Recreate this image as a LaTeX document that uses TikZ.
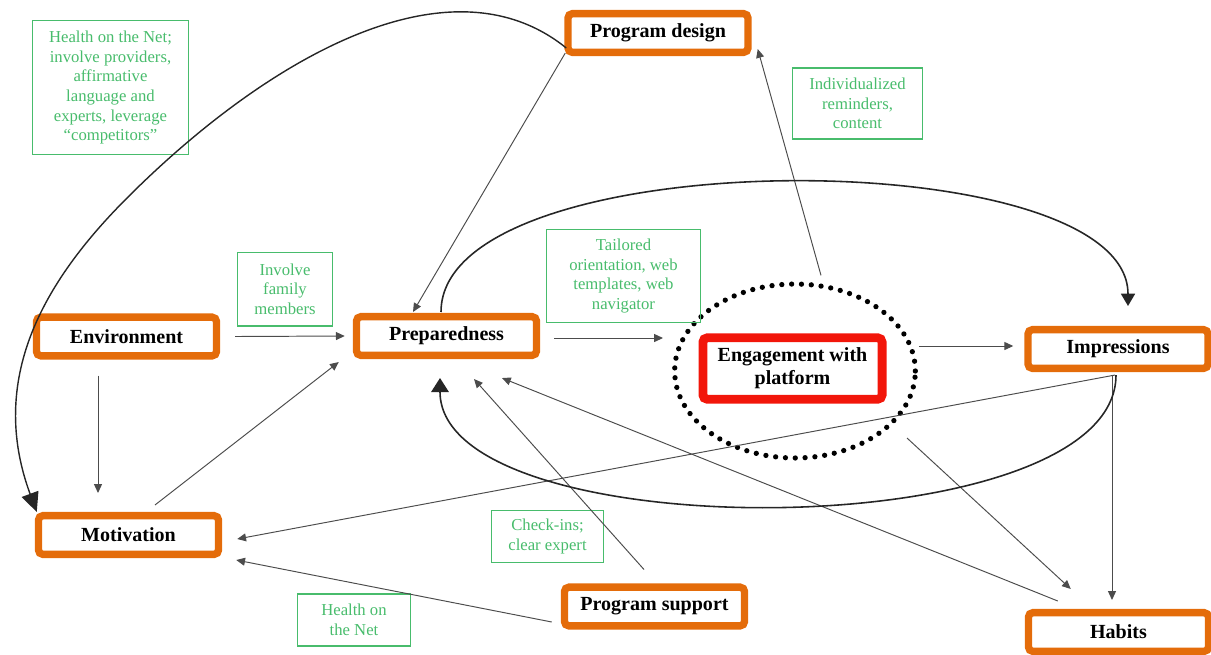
\documentclass[tikz,border=0pt]{standalone}
\usepackage{fontspec}
\setmainfont{Liberation Serif}
\usetikzlibrary{shapes.geometric,arrows.meta,calc}
\definecolor{boxorange}{RGB}{228,108,10}
\definecolor{boxred}{RGB}{242,22,10}
\definecolor{notegreen}{RGB}{72,188,108}

\begin{document}
\begin{tikzpicture}[x=0.02cm, y=-0.02cm,
   factor/.style={draw=boxorange, line width=4.2pt, rounded corners=2.5pt, minimum width=102.5pt, minimum height=22pt, inner sep=0pt, font=\fontsize{11.4}{13}\selectfont\bfseries},
   core/.style={factor, draw=boxred, line width=5pt, minimum width=102pt, minimum height=35pt, align=center},
   ring/.style={ellipse, draw, line width=3pt, dash pattern=on 0pt off 5.6pt, line cap=round, minimum width=137pt, minimum height=99pt, inner sep=0pt},
   note/.style={draw=notegreen, line width=0.7pt, text=notegreen, align=center, inner sep=0pt, font=\fontsize{9.5}{11.2}\selectfont},
   link/.style={draw=black!70, line width=0.55pt, -{Triangle[length=5pt,width=4.5pt]}},
   loop/.style={draw=black!85, line width=0.9pt}]
   \useasboundingbox (0,0) rectangle (1211,654);

   % factors
   \node[factor] (design) at (658,33) {Program design};
   \node[factor] (env) at (126.5,336.5) {Environment};
   \node[factor] (prep) at (446.5,336) {Preparedness};
   \node[factor] (mot) at (128.5,535) {Motivation};
   \node[factor] (imp) at (1118,349) {Impressions};
   \node[factor] (habits) at (1118.5,632) {Habits};
   \node[factor] (support) at (654.5,606.5) {Program support};
   \node[core] (engage) at (792.5,368.5) {Engagement with\\platform};
   \node[ring] (ring) at (795,371) {};

   % strategies
   \node[note, minimum width=89pt, minimum height=76.5pt] (honA) at (110.5,87.5) {Health on the Net;\\involve providers,\\affirmative\\language and\\experts, leverage\\“competitors”};
   \node[note, minimum width=74.3pt, minimum height=40.3pt] (remind) at (857.5,103.5) {Individualized\\reminders,\\content};
   \node[note, minimum width=54.4pt, minimum height=42pt] (family) at (285,289) {Involve\\family\\members};
   \node[note, minimum width=87.9pt, minimum height=53.3pt] (tailor) at (623.5,276) {Tailored\\orientation, web\\templates, web\\navigator};
   \node[note, minimum width=64pt, minimum height=30pt] (checkin) at (547.5,536.5) {Check-ins;\\clear expert};
   \node[note, minimum width=64.6pt, minimum height=29.5pt] (honB) at (354,620) {Health on\\the Net};

   % straight links
   \draw[link] ($(env.east)+(15,0)$) -- ($(prep.west)+(-8,0)$);
   \draw[link] ($(prep.east)+(14,2)$) -- ($(ring.west)+(-9,-33)$);
   \draw[link] ($(ring.east)+(1,-25)$) -- ($(imp.west)+(-11,-3)$);
   \draw[link] ($(env.south)+(-28.5,16)$) -- ($(mot.north)+(-30.5,-19)$);
   \draw[link] ($(mot.north)+(26.5,-7)$) -- ($(prep.south west)+(-14,3)$);
   \draw[link] ($(design.south west)+(1,-3)$) -- ($(prep.north)+(-33.5,-1)$);
   \draw[link] ($(ring.north)+(26,-6)$) -- ($(design.south east)+(6,-7)$);
   \draw[link] ($(imp.south)+(-3,3)$) -- ($(mot.east)+(15,4)$);
   \draw[link] ($(imp.south)+(-6,3)$) -- ($(habits.north)+(-6.5,-9)$);
   \draw[link] ($(ring.east)+(-11,67)$) -- ($(habits.north west)+(46,-20)$);
   \draw[link] ($(habits.north west)+(33,-8)$) -- ($(prep.south)+(55.5,19)$);
   \draw[link] ($(support.north)+(-10.5,-14)$) -- ($(prep.south)+(27.5,20)$);
   \draw[link] ($(support.west)+(-9,15.5)$) -- ($(mot.south east)+(14,2)$);

   % feedback loops
   \draw[loop, -{Triangle[length=7pt,width=8pt]}] ($(prep.north)+(-5.5,-1)$) .. controls +(0,-172) and +(0,-166) .. ($(imp.north)+(10,-20)$);
   \draw[loop, -{Triangle[length=8pt,width=10pt]}] ($(imp.south)+(-2,3)$) .. controls +(0,173) and +(0,172) .. ($(prep.south)+(-6.5,19)$);
   \draw[loop, line width=0.8pt, -{Triangle[length=11pt,width=10pt]}] ($(design.west)+(2,15)$) .. controls (450,-46) and (268,57) .. (127,198) .. controls (42,283) and (-12,380) .. ($(mot.north west)+(2,0)$);
\end{tikzpicture}
\end{document}
